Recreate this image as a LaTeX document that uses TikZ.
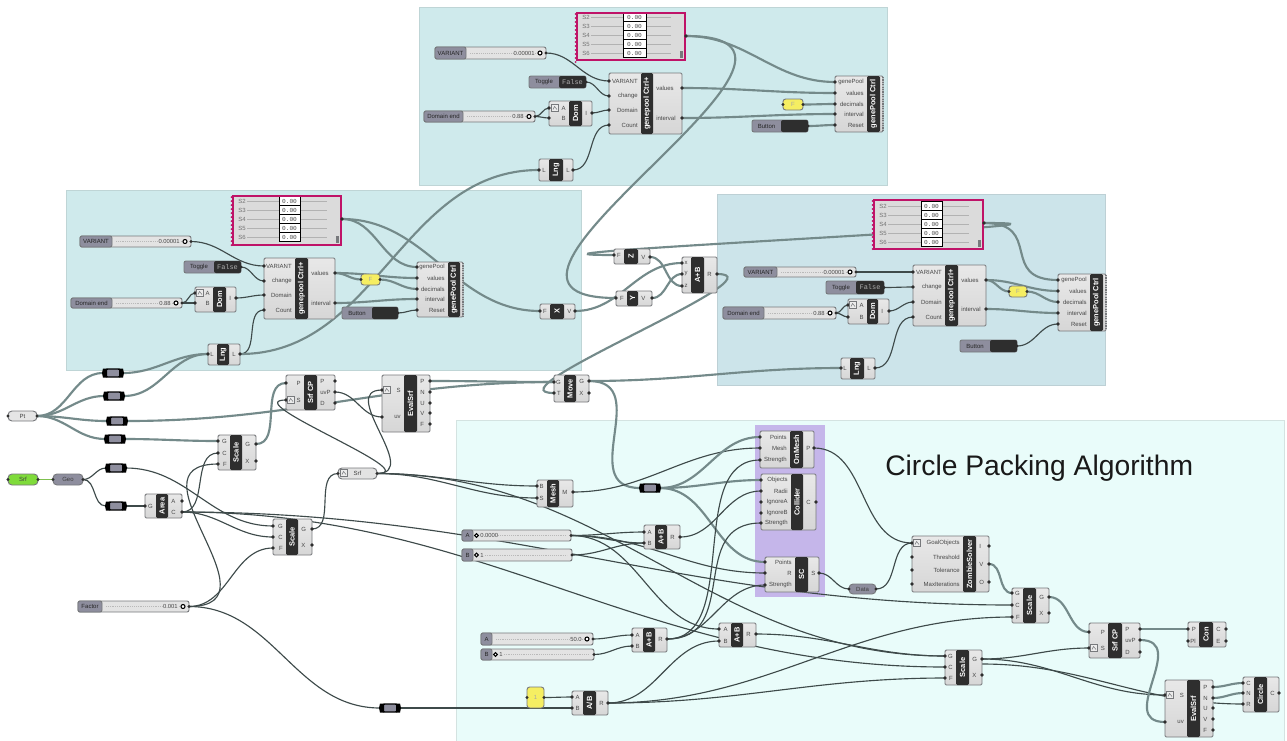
\documentclass[tikz,border=0pt]{standalone}
\usepackage{fontspec}
\usepackage{graphicx}
\setmainfont{Liberation Sans}
\newfontfamily\monof{Liberation Mono}
\pgfdeclarelayer{bgl}\pgfdeclarelayer{wirel}
\pgfsetlayers{bgl,wirel,main}
\definecolor{pteal}{HTML}{CFEAEC}
\definecolor{pblue}{HTML}{CCE4EA}
\definecolor{pmint}{HTML}{E9FCFA}
\definecolor{ppurple}{HTML}{C5B6EA}
\definecolor{ghdark}{HTML}{2E2E2E}
\definecolor{ghedge}{HTML}{77797C}
\definecolor{ghlab}{HTML}{8E8E9E}
\definecolor{magen}{HTML}{BF1368}
\definecolor{wireg}{HTML}{748A8A}
\definecolor{wired}{HTML}{3E4A4A}
\definecolor{gyellow}{HTML}{F5EE62}
\definecolor{ggreen}{HTML}{7FDB3A}
\tikzset{
 panelbox/.style={draw=#1!80!gray,fill=#1,line width=.6pt},
 ghbox/.style={draw=ghedge,line width=.7pt,rounded corners=1pt,top color=gray!18,bottom color=gray!32,inner sep=0pt},
 ghbar/.style={fill=ghdark,rounded corners=1pt,inner sep=0pt,text=white,font=\fontsize{5.6}{6}\selectfont\bfseries},
 plab/.style={font=\fontsize{4.5}{5}\selectfont,text=black!72,inner sep=0pt},
 vlab/.style={font=\fontsize{4.4}{5}\selectfont,text=black!72,inner sep=0pt},
 nub/.style={fill=ghdark},
 wthick/.style={draw=wireg,line width=1.6pt},
 wthin/.style={draw=wired,line width=.85pt},
 wgreen/.style={draw=ggreen!70!gray,line width=.5pt},
 capsule/.style={draw=ghedge,line width=.7pt,rounded corners=3pt,inner sep=0pt},
 relaybox/.style={draw=black,line width=1.1pt,rounded corners=2.5pt,fill=ghlab,inner sep=0pt,minimum width=13pt,minimum height=6pt},
 cellbox/.style={draw=black,line width=.5pt,fill=white,inner sep=0pt,font=\fontsize{4.6}{5}\monof\selectfont,text=black!70},
}
\newcommand\ghbody[8]{%
 \def\gid{#1}\def\gxa{#2}\def\gxb{#4}\def\gba{#6}\def\gbb{#7}%
 \pgfmathsetmacro\gcx{(#2+#4)/2}\pgfmathsetmacro\gcy{(#3+#5)/2}%
 \pgfmathsetmacro\gw{(#4-#2)*0.75}\pgfmathsetmacro\gh{(#5-#3)*0.75}%
 \pgfmathsetmacro\bcx{(#6+#7)/2}\pgfmathsetmacro\bw{(#7-#6)*0.75}%
 \node[ghbox,minimum width=\gw pt,minimum height=\gh pt] (#1) at (\gcx,\gcy) {};
 \node[ghbar,minimum width=\bw pt,minimum height=\gh pt] (#1-bar) at (\bcx,\gcy) {\rotatebox{90}{#8}};
}
\newcommand\ins[1]{\foreach \plabel/\py [count=\pn] in {#1}{%
 \coordinate (\gid-i\pn) at (\gxa,\py);
 \fill[nub] (\gxa,\py) circle (1.9);
 \node[plab,anchor=east] (\gid-il\pn) at (\gba-3,\py) {\plabel};}}
\newcommand\outs[1]{\foreach \plabel/\py [count=\pn] in {#1}{%
 \coordinate (\gid-o\pn) at (\gxb,\py);
 \fill[nub] (\gxb,\py) circle (1.9);
 \node[plab,anchor=west] (\gid-ol\pn) at (\gbb+3,\py) {\plabel};}}
% slider: id x1 y1 x2 y2 xlabel label value ; grip on right
\newcommand\sliderR[8]{%
 \pgfmathsetmacro\gcy{(#3+#5)/2}\pgfmathsetmacro\lcx{(#2+#6)/2}%
 \path[draw=ghedge,line width=.7pt,rounded corners=1.5pt,fill=gray!22] (#2,#3) rectangle (#4,#5);
 \path[draw=ghedge,line width=.7pt,rounded corners=1.5pt,fill=ghlab] (#2,#3) rectangle (#6,#5);
 \draw[gray!55,line width=.4pt,densely dotted] (#6+4,\gcy) -- (#4-8,\gcy);
 \node[plab,text=black!85] (#1) at (\lcx,\gcy) {#7};
 \node[vlab,anchor=east,fill=gray!22] (#1-v) at (#4-11,\gcy) {#8};
 \draw[black,line width=.8pt,fill=white] (#4-6,\gcy) circle (2);
 \coordinate (#1-o) at (#4,\gcy);
 \fill[nub] (#4,\gcy) circle (1.7);
}
% slider with grip on left
\newcommand\sliderL[8]{%
 \pgfmathsetmacro\gcy{(#3+#5)/2}\pgfmathsetmacro\lcx{(#2+#6)/2}%
 \path[draw=ghedge,line width=.7pt,rounded corners=1.5pt,fill=gray!22] (#2,#3) rectangle (#4,#5);
 \path[draw=ghedge,line width=.7pt,rounded corners=1.5pt,fill=ghlab] (#2,#3) rectangle (#6,#5);
 \draw[gray!55,line width=.4pt,densely dotted] (#6+10,\gcy) -- (#4-5,\gcy);
 \node[plab,text=black!85] (#1) at (\lcx,\gcy) {#7};
 \draw[black,line width=.8pt,fill=white] (#6+3.5,\gcy) circle (1.9);
 \node[vlab,anchor=west,fill=gray!22] (#1-v) at (#6+7,\gcy) {#8};
 \coordinate (#1-o) at (#4,\gcy);
 \fill[nub] (#4,\gcy) circle (1.7);
}
% toggle / button: id x1 y1 x2 y2 xdark label text
\newcommand\togglebox[8]{%
 \pgfmathsetmacro\gcy{(#3+#5)/2}\pgfmathsetmacro\lcx{(#2+#6)/2}\pgfmathsetmacro\dcx{(#6+#4)/2}%
 \path[draw=ghedge,line width=.7pt,rounded corners=1.5pt,fill=ghlab] (#2,#3) rectangle (#4,#5);
 \path[fill=ghdark,rounded corners=1.5pt] (#6,#3) rectangle (#4,#5);
 \node[plab,text=black!85] (#1) at (\lcx,\gcy) {#7};
 \node[inner sep=0pt,font=\fontsize{5.2}{6}\monof\selectfont,text=gray!65] (#1-v) at (\dcx,\gcy) {#8};
 \coordinate (#1-o) at (#4,\gcy);
 \fill[nub] (#4,\gcy) circle (1.7);
}
% capsule param: id x1 y1 x2 y2 fill label
\newcommand\param[7]{%
 \pgfmathsetmacro\gcy{(#3+#5)/2}\pgfmathsetmacro\gcx{(#2+#4)/2}\pgfmathsetmacro\gw{(#4-#2)*0.75}\pgfmathsetmacro\gh{(#5-#3)*0.75}%
 \node[capsule,fill=#6,minimum width=\gw pt,minimum height=\gh pt,plab,text=black!75] (#1) at (\gcx,\gcy) {#7};
 \coordinate (#1-i) at (#2,\gcy);\coordinate (#1-o) at (#4,\gcy);
 \fill[nub] (#2,\gcy) circle (1.7);\fill[nub] (#4,\gcy) circle (1.7);
}
% yellow panel with a faint text
\newcommand\ypanel[6]{%
 \pgfmathsetmacro\gcy{(#3+#5)/2}\pgfmathsetmacro\gcx{(#2+#4)/2}\pgfmathsetmacro\gw{(#4-#2)*0.75}\pgfmathsetmacro\gh{(#5-#3)*0.75}%
 \node[capsule,rounded corners=2pt,fill=gyellow,minimum width=\gw pt,minimum height=\gh pt,plab,text=black!35] (#1) at (\gcx,\gcy) {#6};
 \coordinate (#1-i) at (#2,\gcy);\coordinate (#1-o) at (#4,\gcy);
 \fill[nub] (#2,\gcy) circle (1.7);\fill[nub] (#4,\gcy) circle (1.7);
}
\newcommand\relay[3]{%
 \node[relaybox] (#1) at (#2,#3) {};
 \coordinate (#1-i) at (#2-10,#3);\coordinate (#1-o) at (#2+10,#3);
 \fill[black] (#2-10,#3-4.5) -- (#2-6,#3-4.5) -- (#2-6,#3+4.5) -- (#2-10,#3+4.5) -- (#2-11,#3) -- cycle;
 \fill[black] (#2+10,#3-4.5) -- (#2+6,#3-4.5) -- (#2+6,#3+4.5) -- (#2+10,#3+4.5) -- (#2+11,#3) -- cycle;
}
% gene pool box: id x1 y1 x2 y2 xcell1 xcell2 y0 (row centres spaced 9)
\newcommand\gene[8]{%
 \pgfmathsetmacro\gcy{(#3+#5)/2}\pgfmathsetmacro\gcx{(#2+#4)/2}\pgfmathsetmacro\gw{(#4-#2)*0.75}\pgfmathsetmacro\gh{(#5-#3)*0.75}%
 \pgfmathsetmacro\ccx{(#6+#7)/2}\pgfmathsetmacro\cw{(#7-#6)*0.75}%
 \node[draw=magen,line width=2pt,fill=gray!28,minimum width=\gw pt,minimum height=\gh pt,inner sep=0pt] (#1) at (\gcx,\gcy) {};
 \foreach \sname [count=\sn from 0] in {S2,S3,S4,S5,S6}{%
  \pgfmathsetmacro\ry{#8+\sn*9}%
  \draw[gray!60,line width=.3pt] (#2+14,\ry) -- (#4-14,\ry);
  \node[plab,text=black!55,anchor=west] (#1-s\sn) at (#2+5,\ry) {\sname};
  \node[cellbox,minimum width=\cw pt,minimum height=6.4pt] (#1-c\sn) at (\ccx,\ry) {0.00};
 }
 \draw[magen,line width=2pt] (#2,#3) rectangle (#4,#5);
 \fill[ghedge] (#4-5,#5-9) rectangle (#4-2,#5-2);
 \foreach \dy in {0,4,...,48}{\fill[magen] (#2-1.5,#3+1+\dy) circle (1);}
 \coordinate (#1-o) at (#4+1,#3+23);
 \fill[nub] (#4+1,#3+23) circle (1.8);
}
\newcommand\teeth[3]{\draw[ghedge,line width=1.6pt,dash pattern=on .9pt off .9pt] (#1,#2) -- (#1,#3);}
\newcommand\icon[2]{\draw[ghedge,line width=.5pt,fill=gray!15] (#1-3.5,#2-3.5) rectangle (#1+3.5,#2+3.5);\draw[ghedge,line width=.4pt] (#1-2,#2+1.5) -- (#1-.5,#2-1.5) -- (#1+2,#2+1.5);}
\newcommand\wt[2]{\draw[wthick] (#1) to[out=0,in=180] (#2);}
\newcommand\wn[2]{\draw[wthin] (#1) to[out=0,in=180] (#2);}
\newcommand\wl[4]{\draw[#1] (#2) .. controls +(#4,0) and +(-#4,0) .. (#3);}
\begin{document}
\begin{tikzpicture}[x=0.75pt,y=-0.75pt]
\useasboundingbox (0,0) rectangle (1287,740);
\begin{pgfonlayer}{bgl}
\fill[white] (0,0) rectangle (1287,740);
\path[panelbox=pteal] (419,7) rectangle (887,185);
\path[panelbox=pteal] (66,190) rectangle (581,370);
\path[panelbox=pblue] (717,194) rectangle (1105,385);
\path[panelbox=pmint] (456,420) rectangle (1284,741);
\fill[ppurple] (755,425) rectangle (825,597);
\end{pgfonlayer}
\node[anchor=west,inner sep=0pt,font=\fontsize{21.2}{23}\selectfont,text=black!90] (title) at (885,468) {Circle Packing Algorithm};
% ---------- top panel
\gene{tg}{577}{13}{685}{60}{623}{646}{17}
\sliderR{tv}{435}{47}{546}{59}{466}{VARIANT}{0.00001}
\togglebox{tt}{529}{76}{586}{88}{559}{Toggle}{False}
\sliderR{td}{424}{111}{535}{122}{463}{Domain end}{0.88}
\ghbody{tdom}{549}{101}{592}{126}{569}{582}{Dom}\ins{A/108,B/118}\outs{I/113}\icon{555}{108}
\ghbody{tc}{609}{73}{682}{134}{641}{653}{genepool Ctrl+}\ins{VARIANT/81,change/96,Domain/110,Count/125}\outs{values/88,interval/118}
\ghbody{tp}{835}{76}{883}{132}{867}{880}{genePool Ctrl}\ins{genePool/82,values/93,decimals/104,interval/114,Reset/125}
\teeth{883}{77}{131}
\ypanel{ty}{783}{99}{803}{110}{F}
\togglebox{tb}{752}{120}{808}{132}{781}{Button}{}
\ghbody{tl}{539}{159}{573}{181}{549}{563}{Lng}\ins{L/170}\outs{L/170}
% ---------- left panel
\gene{lg}{233}{196}{341}{245}{279}{300}{201}
\sliderR{lv}{80}{236}{191}{247}{112}{VARIANT}{0.00001}
\togglebox{lt}{184}{261}{241}{273}{214}{Toggle}{False}
\sliderR{ld}{71}{298}{182}{308}{112}{Domain end}{0.88}
\ghbody{ldom}{195}{287}{236}{312}{213}{226}{Dom}\ins{A/293,B/303}\outs{I/298}\icon{200}{293}
\ghbody{lc}{264}{258}{335}{319}{295}{308}{genepool Ctrl+}\ins{VARIANT/266,change/281,Domain/295,Count/310}\outs{values/273,interval/303}
\ghbody{lp}{417}{262}{463}{317}{448}{460}{genePool Ctrl}\ins{genePool/267,values/278,decimals/289,interval/299,Reset/310}
\teeth{463}{263}{316}
\ypanel{ly}{361}{274}{380}{285}{F}
\togglebox{lb}{342}{307}{398}{319}{372}{Button}{}
\ghbody{ll}{208}{344}{240}{365}{217}{229}{Lng}\ins{L/354}\outs{L/354}
\ghbody{gx}{540}{304}{575}{319}{550}{564}{X}\ins{F/311}\outs{V/311}
% ---------- right panel
\gene{rg}{874}{200}{983}{249}{921}{942}{206}
\sliderR{rv}{744}{267}{856}{277}{777}{VARIANT}{0.00001}
\togglebox{rt}{826}{281}{884}{294}{856}{Toggle}{False}
\sliderR{rd}{723}{307}{836}{319}{764}{Domain end}{0.88}
\ghbody{rdom}{848}{299}{889}{324}{867}{878}{Dom}\ins{A/305,B/317}\outs{I/311}\icon{853}{305}
\ghbody{rc}{913}{265}{986}{326}{945}{958}{genepool Ctrl+}\ins{VARIANT/272,change/287,Domain/302,Count/317}\outs{values/280,interval/309}
\ghbody{rp}{1058}{274}{1106}{331}{1090}{1103}{genePool Ctrl}\ins{genePool/280,values/291,decimals/302,interval/313,Reset/324}
\teeth{1106}{275}{330}
\ypanel{ry}{1009}{286}{1027}{297}{F}
\togglebox{rb}{960}{340}{1017}{352}{990}{Button}{}
\ghbody{rl}{841}{358}{875}{379}{850}{864}{Lng}\ins{L/368}\outs{L/368}
\ghbody{gz}{614}{249}{650}{264}{624}{638}{Z}\ins{F/255}\outs{V/257}
\ghbody{gy}{616}{291}{652}{306}{627}{638}{Y}\ins{F/298}\outs{V/298}
\ghbody{ab}{682}{257}{717}{293}{691}{704}{A+B}\ins{x/263,y/274,z/286}\outs{R/274}
% ---------- middle left
\param{pt}{8}{411}{37}{421}{gray!20}{Pt}
\relay{r1}{113}{373}\relay{r2}{114}{396}\relay{r3}{117}{421}\relay{r4}{115}{439}
\relay{r5}{116}{468}\relay{r6}{116}{506}
\param{ss}{8}{474}{38}{485}{ggreen}{Srf}
\param{geo}{53}{474}{83}{485}{ghlab}{Geo}
\ghbody{area}{145}{494}{182}{518}{156}{168}{Area}\ins{G/506}\outs{A/501,C/512}
\ghbody{sa}{218}{435}{256}{470}{230}{242}{Scale}\ins{G/441,C/453,F/464}\outs{G/444,X/461}
\ghbody{cpa}{286}{375}{335}{410}{304}{317}{Srf CP}\ins{P/383,S/400}\outs{P/381,uvP/392,D/403}\icon{291}{400}
\ghbody{ea}{382}{375}{430}{432}{404}{417}{EvalSrf}\ins{S/390,uv/417}\outs{P/381,N/392,U/403,V/413,F/424}\icon{387}{390}
\ghbody{mv}{554}{375}{589}{402}{564}{576}{Move}\ins{G/382,T/393}\outs{G/381,X/393}
\param{sp}{338}{468}{377}{479}{gray!22}{Srf}\icon{344}{473}
\ghbody{sb}{273}{519}{312}{555}{286}{298}{Scale}\ins{G/526,C/537,F/548}\outs{G/529,X/545}
\sliderR{fa}{78}{601}{189}{612}{102}{Factor}{0.001}
\relay{rb1}{390}{708}
% ---------- algorithm panel
\ghbody{om}{760}{431}{814}{468}{790}{803}{OnMesh}\ins{Points/437,Mesh/448,Strength/460}\outs{P/448}
\ghbody{co}{761}{474}{816}{530}{791}{803}{Collider}\ins{Objects/480,Radii/491,IgnoreA/502,IgnoreB/513,Strength/523}\outs{C/502}
\ghbody{sc}{765}{557}{819}{592}{795}{808}{SC}\ins{Points/562,R/573,Strength/585}\outs{S/573}
\param{da}{849}{584}{876}{594}{ghlab}{Data}
\ghbody{me}{537}{480}{573}{507}{547}{559}{Mesh}\ins{B/486,S/498}\outs{M/492}
\relay{rm}{650}{488}
\sliderL{sa1}{462}{530}{571}{541}{473}{A}{0.0000}
\sliderL{sb1}{462}{549}{572}{561}{473}{B}{1}
\ghbody{ab1}{644}{525}{680}{549}{655}{667}{A+B}\ins{A/532,B/543}\outs{R/537}
\sliderR{sa2}{481}{633}{593}{645}{492}{A}{50.0}
\sliderL{sb2}{481}{649}{594}{660}{492}{B}{1}
\ghbody{ab2}{632}{628}{667}{652}{643}{655}{A+B}\ins{A/635,B/646}\outs{R/639}
\ghbody{ab3}{719}{623}{756}{647}{731}{743}{A+B}\ins{A/629,B/641}\outs{R/634}
\ypanel{yo}{527}{687}{544}{708}{1}
\ghbody{di}{572}{691}{608}{715}{583}{596}{A/B}\ins{A/697,B/708}\outs{R/703}
\ghbody{so}{912}{536}{989}{592}{963}{976}{ZombieSolver}\ins{GoalObjects/543,Threshold/557,Tolerance/570,MaxIterations/584}\outs{I/546,V/564,O/582}\icon{917}{543}
\ghbody{sd}{1012}{588}{1049}{623}{1023}{1036}{Scale}\ins{G/593,C/605,F/617}\outs{G/597,X/613}
\ghbody{cpb}{1089}{623}{1140}{658}{1108}{1122}{Srf CP}\ins{P/632,S/648}\outs{P/629,uvP/640,D/652}\icon{1094}{648}
\ghbody{cen}{1188}{622}{1226}{647}{1199}{1213}{Con}\ins{P/629,Pl/641}\outs{C/629,E/641}
\ghbody{se}{945}{650}{982}{685}{956}{969}{Scale}\ins{G/656,C/667,F/678}\outs{G/659,X/675}
\coordinate (se-o3) at (982,664);
\ghbody{eb}{1165}{680}{1213}{737}{1187}{1200}{EvalSrf}\ins{S/695,uv/722}\outs{P/687,N/698,U/708,V/719,F/730}\icon{1170}{695}
\ghbody{ci}{1243}{677}{1279}{712}{1254}{1267}{Circle}\ins{C/683,N/693,R/704}\outs{C/693}
\begin{pgfonlayer}{wirel}
% top
\wn{tv-o}{tc-i1}\wn{tt-o}{tc-i2}\wn{td-o}{tdom-i1}\wn{td-o}{tdom-i2}\wn{tdom-o1}{tc-i3}\wn{tl-o1}{tc-i4}
\wt{tg-o}{tp-i1}\wt{tc-o1}{tp-i2}\wt{tc-o2}{tp-i4}\wt{ty-o}{tp-i3}\wt{tb-o}{tp-i5}
\wl{wthick}{tg-o}{gy-i1}{195}
% left
\wn{lv-o}{lc-i1}\wn{lt-o}{lc-i2}\wn{ld-o}{ldom-i1}\wn{ld-o}{ldom-i2}\wn{ldom-o1}{lc-i3}\wn{ll-o1}{lc-i4}
\wt{lg-o}{lp-i1}\wt{lg-o}{gx-i1}\wt{lc-o1}{lp-i2}\wt{lc-o1}{ly-i}\wt{ly-o}{lp-i3}\wt{lc-o2}{lp-i4}\wn{lb-o}{lp-i5}
\wt{ll-o1}{tl-i1}
% right
\wn{rv-o}{rc-i1}\wn{rt-o}{rc-i2}\wn{rd-o}{rdom-i1}\wn{rd-o}{rdom-i2}\wn{rdom-o1}{rc-i3}\wn{rl-o1}{rc-i4}
\wl{wthick}{rg-o}{rp-i1}{60}\wl{wthick}{rg-o}{gz-i1}{170}
\wt{rc-o1}{rp-i2}\wt{rc-o1}{ry-i}\wt{ry-o}{rp-i3}\wt{rc-o2}{rp-i4}\wn{rb-o}{rp-i5}
\wt{gz-o1}{ab-i3}\wt{gy-o1}{ab-i2}\wt{gx-o1}{ab-i1}
\wl{wthick}{ab-o1}{mv-i2}{70}
% middle
\foreach \rr in {r1,r2,r3,r4}{\draw[wthick] (pt-o) to[out=0,in=180] (\rr-i);}
\wt{r1-o}{ll-i1}\wt{r2-o}{ll-i1}\wt{r3-o}{mv-i1}\wt{r4-o}{sa-i1}
\wt{ea-o1}{mv-i1}\wt{mv-o1}{rl-i1}
\wl{wthick}{mv-o1}{rm-i}{65}
\draw[wgreen] (ss-o) -- (geo-i);
\wn{geo-o}{r5-i}\wn{geo-o}{r6-i}\wn{r5-o}{sb-i1}\wn{r6-o}{area-i1}
\wt{sa-o1}{cpa-i1}\wn{area-o2}{sa-i2}\wl{wthin}{fa-o}{sa-i3}{95}
\wn{area-o2}{sb-i2}\wn{fa-o}{sb-i3}\wn{fa-o}{rb1-i}\wn{rb1-o}{di-i2}
\wn{sb-o1}{sp-i}\wl{wthin}{sp-o}{ea-i1}{45}\wl{wthin}{sp-o}{cpa-i2}{50}\wn{cpa-o2}{ea-i2}
\wn{sp-o}{me-i1}\wn{sp-o}{me-i2}\wn{sp-o}{se-i1}
\wn{area-o2}{sd-i2}\wn{area-o2}{se-i2}
% algorithm
\wn{me-o1}{om-i2}\wt{rm-o}{om-i1}\wt{rm-o}{co-i1}\wt{rm-o}{sc-i1}
\wn{sa1-o}{ab1-i1}\wn{sa1-o}{ab1-i2}\wn{sb1-o}{ab1-i2}\wn{sa1-o}{ab3-i1}\wn{sa1-o}{sc-i2}
\wn{ab1-o1}{co-i2}
\wn{sa2-o}{ab2-i1}\wn{sb2-o}{ab2-i2}
\wl{wthin}{ab2-o1}{om-i3}{75}\wl{wthin}{ab2-o1}{co-i5}{75}\wn{ab2-o1}{sc-i3}
\wn{ab3-o1}{se-i1}\wn{yo-o}{di-i1}
\wn{di-o1}{ab3-i2}\wn{di-o1}{sd-i3}\wn{di-o1}{se-i3}
\wn{om-o1}{so-i1}\wn{sc-o1}{da-i}\wn{da-o}{so-i1}
\wt{so-o2}{sd-i1}\wt{sd-o1}{cpb-i1}\wt{cpb-o1}{cen-i1}
\wn{se-o1}{cpb-i2}\wn{se-o1}{eb-i1}\wn{se-o3}{ci-i3}
\wl{wthick}{cpb-o2}{eb-i2}{50}
\wt{eb-o1}{ci-i1}\wt{eb-o2}{ci-i2}
\end{pgfonlayer}
\end{tikzpicture}
\end{document}
